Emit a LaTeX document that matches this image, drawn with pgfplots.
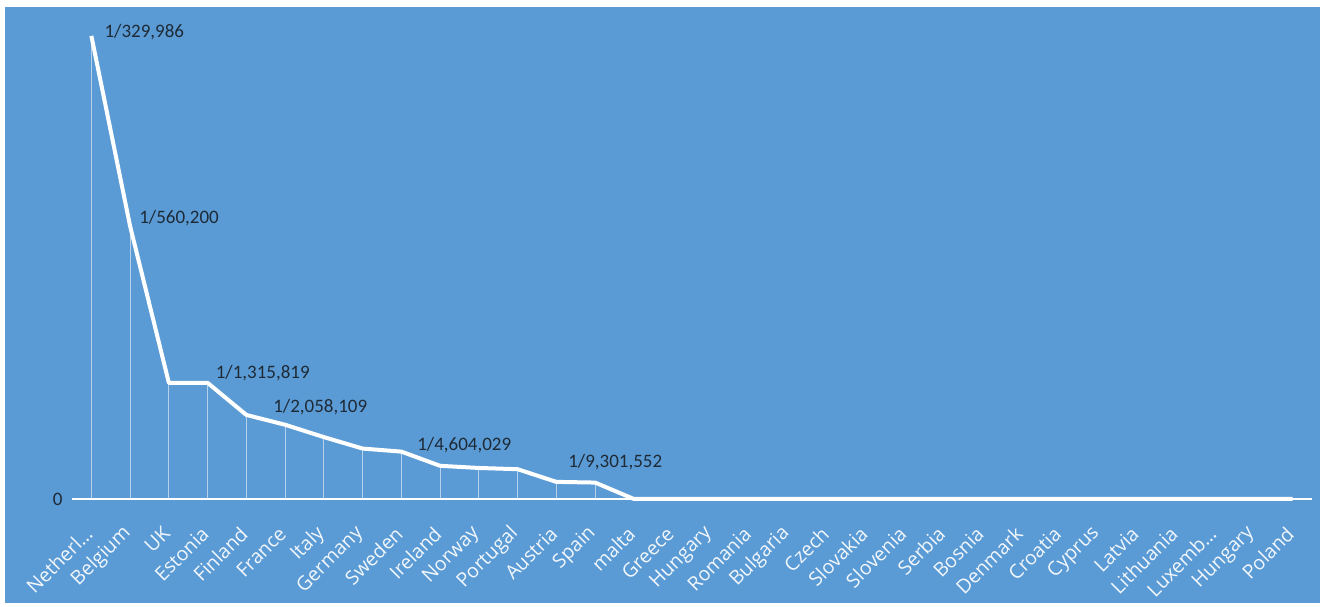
\documentclass[border=0pt]{standalone}
\usepackage{pgfplots}
\pgfplotsset{compat=1.18}
\usepackage{fontspec}
\setmainfont{Carlito}
\newfontfamily\tickfont{Open Sans}
\definecolor{bgblue}{HTML}{5B9BD5}
\definecolor{lbl}{HTML}{1E2A36}
\begin{document}
\begin{tikzpicture}
\fill[white] (0pt,0pt) rectangle (1320pt,607pt);
\fill[bgblue] (5pt,4pt) rectangle (1320pt,600pt);
\begin{axis}[
  at={(72pt,108pt)}, anchor=south west,
  scale only axis, width=1240pt, height=489pt,
  xmin=-0.5, xmax=31.5, ymin=0, ymax=3.2,
  clip=false,
  axis line style={draw=none},
  major tick length=0pt,
  xtick={0,...,31},
  xticklabels={Netherl…,Belgium,UK,Estonia,Finland,France,Italy,Germany,Sweden,Ireland,Norway,Portugal,Austria,Spain,malta,Greece,Hungary,Romania,Bulgaria,Czech,Slovakia,Slovenia,Serbia,Bosnia,Denmark,Croatia,Cyprus,Latvia,Lithuania,Luxemb…,Hungary,Poland},
  xticklabel style={rotate=45, anchor=east, text=white!92!bgblue, font=\tickfont\fontsize{19.5}{23}\selectfont, yshift=-20.5pt, xshift=-20.5pt},
  ytick={0},
  yticklabel style={text=lbl, font=\fontsize{19}{22}\selectfont, xshift=-6pt},
  /pgf/number format/assume math mode=true,
]
\draw[white, line width=2pt] (axis cs:-0.5,0) -- (axis cs:31.5,0);
\addplot[ycomb, white, opacity=0.55, line width=1.2pt, no markers] coordinates {
(0,3.0305) (1,1.7851) (2,0.760) (3,0.760) (4,0.55) (5,0.4859) (6,0.405) (7,0.33) (8,0.31) (9,0.2172) (10,0.203) (11,0.195) (12,0.112) (13,0.1075)
};
\addplot[white, line width=4pt, line join=round, no markers] coordinates {
(0,3.0305) (1,1.7851) (2,0.760) (3,0.760) (4,0.55) (5,0.4859) (6,0.405) (7,0.33) (8,0.31) (9,0.2172) (10,0.203) (11,0.195) (12,0.112) (13,0.1075)
(14,0) (15,0) (16,0) (17,0) (18,0) (19,0) (20,0) (21,0) (22,0) (23,0) (24,0) (25,0) (26,0) (27,0) (28,0) (29,0) (30,0) (31,0)
};
\begin{scope}[every node/.style={text=lbl, font=\fontsize{19}{22}\selectfont, anchor=west, inner sep=0pt}]
\node[xshift=13pt, yshift=4pt] at (axis cs:0,3.0305) {1/329,986};
\node[xshift=9pt, yshift=8pt] at (axis cs:1,1.7851) {1/560,200};
\node[xshift=8pt, yshift=10pt] at (axis cs:3,0.760) {1/1,315,819};
\node[xshift=-12pt, yshift=18pt] at (axis cs:5,0.4859) {1/2,058,109};
\node[xshift=-23pt, yshift=21pt] at (axis cs:9,0.2172) {1/4,604,029};
\node[xshift=-27pt, yshift=20pt] at (axis cs:13,0.1075) {1/9,301,552};
\end{scope}
\end{axis}
\end{tikzpicture}
\end{document}
